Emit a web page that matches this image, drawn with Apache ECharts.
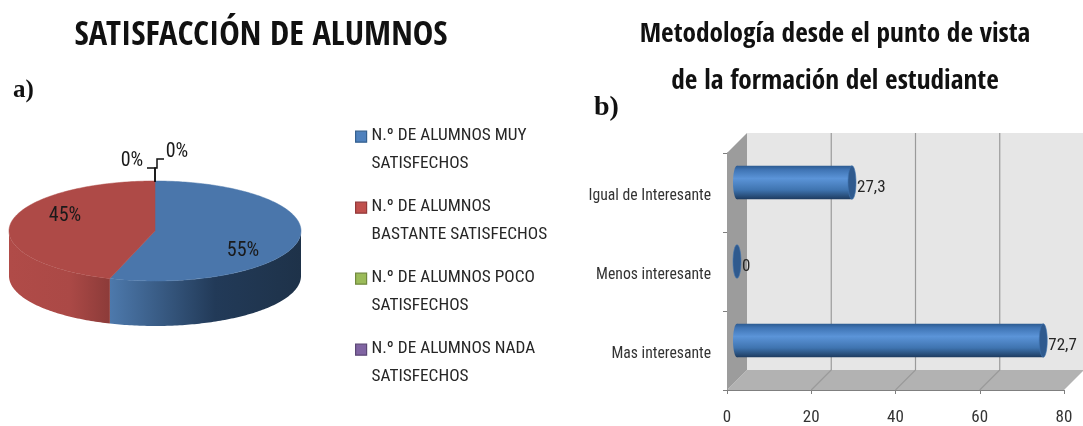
<!DOCTYPE html>
<html>
<head>
<meta charset="utf-8">
<style>
  html, body { margin: 0; padding: 0; background: #fff; }
  #chart { width: 1083px; height: 426px; }
</style>
<script src="https://cdn.jsdelivr.net/npm/echarts@6/dist/echarts.min.js"></script>
</head>
<body>
<div id="chart"></div>
<script>
// a) pie
const pieCategories = [
  'N.º DE ALUMNOS MUY\nSATISFECHOS',
  'N.º DE ALUMNOS\nBASTANTE SATISFECHOS',
  'N.º DE ALUMNOS POCO\nSATISFECHOS',
  'N.º DE ALUMNOS NADA\nSATISFECHOS',
];
const pieValues = [55, 45, 0, 0];

// b) bars, bottom to top
const barCategories = ['Mas interesante', 'Menos interesante', 'Igual de Interesante'];
const barValues = [72.7, 0, 27.3];
const barTicks = [0, 20, 40, 60, 80];

const FONT = '"Roboto Condensed", "Liberation Sans", sans-serif';
const TITLE_FONT = '"Open Sans Condensed", "Roboto Condensed", sans-serif';
const legendColors = ['#4f81bd', '#c0504d', '#9bbb59', '#8064a2'];
const legendBorders = ['#35608f', '#93393a', '#71893f', '#5c4776'];
const topColors = ['#4a76ab', '#ae4a47', '#9bbb59', '#8064a2'];
const wallColors = [
  [[0, '#4d79ac'], [0.55, '#223a58'], [1, '#1e3249']],
  [[0, '#b04b48'], [0.6, '#ab4946'], [1, '#8c3b39']],
];

// pie layout
const PIE = { cx: 155, cy: 231, rx: 146, ry: 50, depth: 45 };
const pieLabelAt = [[243, 251], [65, 216], [132, 161], [177, 152]];
const leaders = [
  null,
  null,
  [[155, 182], [155, 168], [147, 168]],
  [[155, 182], [155, 168], [157, 168], [157, 159], [164, 159]],
];

const pieTotal = pieValues.reduce((a, b) => a + b, 0);

function piePoint(deg, dy) {
  // deg clockwise from the top of the ellipse
  const r = deg * Math.PI / 180;
  return [PIE.cx + PIE.rx * Math.sin(r), PIE.cy - PIE.ry * Math.cos(r) + dy];
}

function arc(from, to, dy) {
  const pts = [];
  const n = Math.max(2, Math.ceil(Math.abs(to - from)));
  for (let i = 0; i <= n; i++) pts.push(piePoint(from + (to - from) * i / n, dy));
  return pts;
}

function renderSlice(idx) {
  return function (params, api) {
    const value = api.value(0);
    const before = pieValues.slice(0, idx).reduce((a, b) => a + b, 0);
    const start = before / pieTotal * 360;
    const end = (before + value) / pieTotal * 360;
    const children = [];
    // side wall, only the front half of the ellipse shows
    const wallFrom = Math.max(start, 90);
    const wallTo = Math.min(end, 270);
    if (value > 0 && wallTo > wallFrom) {
      children.push({
        type: 'polygon',
        shape: { points: arc(wallFrom, wallTo, 0).concat(arc(wallTo, wallFrom, PIE.depth)) },
        style: { fill: new echarts.graphic.LinearGradient(0, 0, 1, 0, wallColors[idx].map((c) => ({ offset: c[0], color: c[1] }))) },
      });
    }
    if (value > 0) {
      children.push({
        type: 'polygon',
        shape: { points: [[PIE.cx, PIE.cy]].concat(arc(start, end, 0)) },
        style: { fill: topColors[idx], stroke: topColors[idx], lineWidth: 0.5 },
      });
    }
    if (leaders[idx]) {
      children.push({
        type: 'polyline',
        shape: { points: leaders[idx] },
        style: { fill: null, stroke: '#111', lineWidth: 1.5 },
      });
    }
    children.push({
      type: 'text',
      z2: 10,
      style: {
        x: pieLabelAt[idx][0],
        y: pieLabelAt[idx][1],
        text: Math.round(value) + '%',
        align: 'center',
        verticalAlign: 'middle',
        fill: '#1a1a1a',
        font: '20px ' + FONT,
      },
    });
    return { type: 'group', children: children };
  };
}

const pieSeries = pieCategories.map((name, i) => ({
  type: 'custom',
  name: name,
  coordinateSystem: 'none',
  itemStyle: { color: legendColors[i] },
  data: [[pieValues[i]]],
  renderItem: renderSlice(i),
  silent: true,
}));

// 3D box of the bar chart, depth in px
const DEPTH = 20;

function renderBox(params, api) {
  const cs = params.coordSys;
  const left = cs.x;
  const right = cs.x + cs.width;
  const top = cs.y;
  const bottom = cs.y + cs.height;
  const children = [
    {
      type: 'rect',
      shape: { x: left + DEPTH, y: top - DEPTH, width: right - left, height: bottom - top },
      style: { fill: '#e6e6e6' },
    },
    {
      type: 'polygon',
      shape: { points: [[left, bottom], [left + DEPTH, bottom - DEPTH], [right + DEPTH, bottom - DEPTH], [right, bottom]] },
      style: { fill: '#b2b2b2' },
    },
    {
      type: 'polygon',
      shape: { points: [[left, top], [left + DEPTH, top - DEPTH], [left + DEPTH, bottom - DEPTH], [left, bottom]] },
      style: { fill: '#9c9c9c' },
    },
  ];
  barTicks.slice(1, -1).forEach((t) => {
    const x = api.coord([t, 0])[0];
    children.push({
      type: 'polyline',
      shape: { points: [[x, bottom], [x + DEPTH, bottom - DEPTH], [x + DEPTH, top - DEPTH]] },
      style: { fill: null, stroke: '#9a9a9a', lineWidth: 1.2 },
    });
  });
  return { type: 'group', children: children };
}

function renderCylinder(params, api) {
  const value = api.value(0);
  const p0 = api.coord([0, api.value(1)]);
  const p1 = api.coord([value, api.value(1)]);
  const h = api.size([0, 1])[1] * 0.425;
  const x0 = p0[0] + DEPTH / 2;
  const x1 = p1[0] + DEPTH / 2;
  const y = p0[1] - DEPTH / 2;
  const body = new echarts.graphic.LinearGradient(0, 0, 0, 1, [
    { offset: 0, color: '#2c5a90' },
    { offset: 0.12, color: '#3f74b4' },
    { offset: 0.38, color: '#5b94d8' },
    { offset: 0.72, color: '#3f74b0' },
    { offset: 0.93, color: '#264a74' },
    { offset: 1, color: '#1d3a5e' },
  ]);
  const children = [];
  if (value > 0) {
    children.push(
      { type: 'ellipse', shape: { cx: x0, cy: y, rx: 4, ry: h / 2 }, style: { fill: body } },
      { type: 'rect', shape: { x: x0, y: y - h / 2, width: x1 - x0, height: h }, style: { fill: body } }
    );
  }
  children.push({
    type: 'ellipse',
    shape: { cx: x1, cy: y, rx: 4, ry: h / 2 },
    style: { fill: '#2f5a8e', stroke: '#3f74b0', lineWidth: 0.6 },
  });
  children.push({
    type: 'text',
    style: {
      x: x1 + 5,
      y: y + 5,
      text: String(value).replace('.', ','),
      align: 'left',
      verticalAlign: 'middle',
      fill: '#262626',
      font: '17px ' + FONT,
    },
  });
  return { type: 'group', children: children };
}

const option = {
  animation: false,
  backgroundColor: '#fff',
  title: [
    { text: 'SATISFACCIÓN DE ALUMNOS', left: 256, top: 13, textAlign: 'center',
      textStyle: { fontFamily: TITLE_FONT, fontSize: 34.5, fontWeight: 'bold', color: '#111' } },
    { text: 'Metodología desde el punto de vista\nde la formación del estudiante', left: 830, top: 7, textAlign: 'center',
      textStyle: { fontFamily: TITLE_FONT, fontSize: 27.3, fontWeight: 'bold', color: '#111', lineHeight: 46.5 } },
    { text: 'a)', left: 8, top: 73,
      textStyle: { fontFamily: '"Liberation Serif", serif', fontSize: 25, fontWeight: 'bold', color: '#111' } },
    { text: 'b)', left: 589, top: 89,
      textStyle: { fontFamily: '"Liberation Serif", serif', fontSize: 28, fontWeight: 'bold', color: '#111' } },
  ],
  legend: {
    orient: 'vertical',
    left: 350,
    top: 117,
    itemWidth: 11,
    itemHeight: 40,
    itemGap: 16,
    selectedMode: false,
    icon: 'path://M0 0H12V12H0Z M0 40L0 40Z',
    data: pieCategories.map((name, i) => ({
      name: name,
      itemStyle: { color: legendColors[i], borderColor: legendBorders[i], borderWidth: 1.2 },
    })),
    textStyle: { fontFamily: FONT, fontSize: 17.3, color: '#262626', lineHeight: 27.5 },
  },
  grid: { left: 727, top: 153, width: 337, height: 238 },
  xAxis: {
    type: 'value',
    min: 0,
    max: 80,
    interval: 20,
    splitLine: { show: false },
    axisLine: { show: true, lineStyle: { color: '#7f7f7f', width: 1 } },
    axisTick: { show: true, length: 4, lineStyle: { color: '#7f7f7f' } },
    axisLabel: { fontFamily: FONT, fontSize: 17, color: '#333', margin: 19 },
  },
  yAxis: {
    type: 'category',
    data: barCategories,
    axisLine: { show: true, lineStyle: { color: '#7f7f7f', width: 1 } },
    axisTick: { show: true, length: 4, lineStyle: { color: '#7f7f7f' } },
    axisLabel: { fontFamily: FONT, fontSize: 15.7, color: '#333', margin: 16, lineHeight: 8, verticalAlign: 'top' },
  },
  series: pieSeries.concat([
    {
      type: 'custom',
      coordinateSystem: 'cartesian2d',
      data: [[0, 0]],
      z: 1,
      silent: true,
      renderItem: renderBox,
    },
    {
      type: 'custom',
      coordinateSystem: 'cartesian2d',
      data: barValues.map((v, i) => [v, i]),
      encode: { x: 0, y: 1 },
      z: 3,
      silent: true,
      renderItem: renderCylinder,
    },
  ]),
};

const chart = echarts.init(document.getElementById('chart'), null, { renderer: 'canvas' });
chart.setOption(option);
</script>
</body>
</html>
